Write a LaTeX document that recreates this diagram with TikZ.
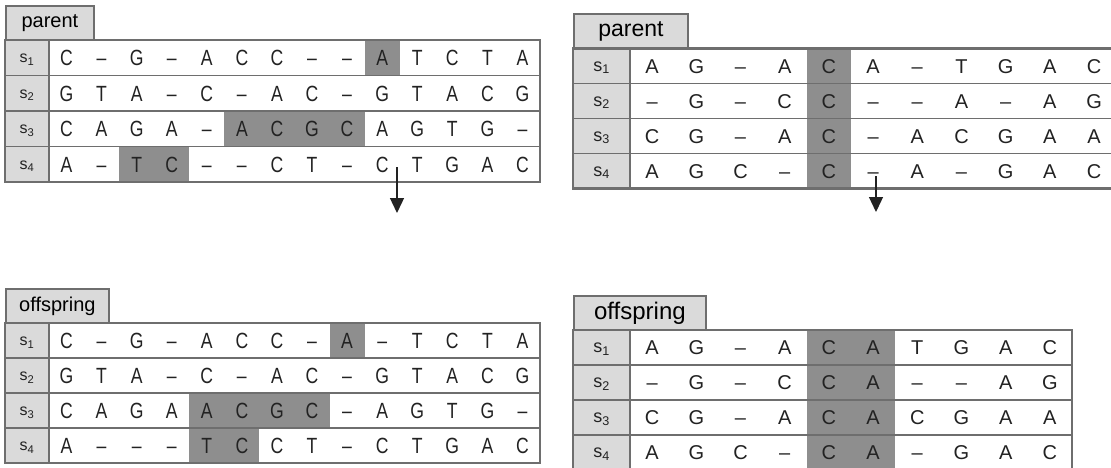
\documentclass[tikz,border=0pt]{standalone}
\usepackage{fontspec}
\setmainfont{Liberation Sans}
\newfontfamily\narrowfont[FakeStretch=0.8]{Liberation Sans}
\usetikzlibrary{arrows.meta}
\definecolor{gridc}{HTML}{6E6E6E}
\definecolor{labc}{HTML}{DADADA}
\definecolor{shadec}{HTML}{8E8E8E}
\definecolor{inkc}{HTML}{222222}
\newcommand\sgap{\textendash}
\tikzset{
  labcell/.style={fill=labc},
  seqwhite/.style={fill=white},
  shadecell/.style={fill=shadec},
  rowline/.style={draw=gridc, line width=1.8pt},
  frameline/.style={draw=gridc, line width=2.2pt},
  tabbox/.style={draw=gridc, fill=labc, line width=1.8pt, inner sep=0pt, anchor=north west, text=black},
  lettL/.style={text=inkc, font=\narrowfont\fontsize{22}{24}\selectfont, inner sep=0pt, anchor=base},
  lettR/.style={text=inkc, font=\fontsize{20}{24}\selectfont, inner sep=0pt, anchor=base},
  labL/.style={text=inkc, font=\fontsize{16}{18}\selectfont, inner sep=0pt, anchor=base},
  labR/.style={text=inkc, font=\fontsize{18}{20}\selectfont, inner sep=0pt, anchor=base},
  arr/.style={draw=inkc, line width=1.3pt, -{Triangle[width=14pt,length=15pt]}},
}
% #1 table name, #2 row number, #3 shade from, #4 shade to, #5 letters
\newcommand\seqrow[5]{%
  \pgfmathsetmacro\rya{\Ty+(#2-1)*\Th}%
  \pgfmathsetmacro\ryb{\rya+\Th}%
  \pgfmathsetmacro\rym{\rya+\Th/2}%
  \pgfmathsetmacro\rsa{\Tl+#3*\Tw}%
  \pgfmathsetmacro\rsb{\Tl+#4*\Tw}%
  \pgfmathsetmacro\rxr{\Tl+\Tn*\Tw}%
  \fill[labcell] (\Tx,\rya) rectangle (\Tl,\ryb);
  \fill[seqwhite] (\Tl,\rya) rectangle (\rxr,\ryb);
  \fill[shadecell] (\rsa,\rya) rectangle (\rsb,\ryb);
  \draw[rowline] (\Tx,\rya) rectangle (\Tl,\ryb);
  \draw[rowline] (\Tl,\rya) rectangle (\rxr,\ryb);
  \node[lab] (#1-s#2) at ({(\Tx+\Tl)/2},{\rym+\Lb}) {s\textsubscript{#2}};
  \foreach \ch [count=\i from 0] in {#5} {\node[lett] (#1-#2-\i) at ({\Tl+\Tw*(\i+0.5)},{\rym+\Cb}) {\ch};}
}
\begin{document}
\begin{tikzpicture}[x=1pt,y=-1pt]
\useasboundingbox (0,0) rectangle (1111,467);
\clip (0,0) rectangle (1111,467);

% ---------- top-left parent ----------
\def\Tx{5}\def\Tl{49}\def\Tw{35.07}\def\Ty{40}\def\Th{35.5}\def\Tn{14}\def\Cb{8}\def\Lb{5}
\tikzset{lett/.style={lettL}, lab/.style={labL}}
\node[tabbox, minimum width=88pt, minimum height=35pt, font=\fontsize{20}{24}\selectfont] (tl-tab) at (5,5) {parent};
\seqrow{tl}{1}{9}{10}{C,\sgap,G,\sgap,A,C,C,\sgap,\sgap,A,T,C,T,A}
\seqrow{tl}{2}{0}{0}{G,T,A,\sgap,C,\sgap,A,C,\sgap,G,T,A,C,G}
\seqrow{tl}{3}{5}{9}{C,A,G,A,\sgap,A,C,G,C,A,G,T,G,\sgap}
\seqrow{tl}{4}{2}{4}{A,\sgap,T,C,\sgap,\sgap,C,T,\sgap,C,T,G,A,C}
\draw[frameline] (5,40) rectangle (540,182);
\coordinate (tl-arrtop) at (397,167);
\coordinate (tl-arrtip) at (397,213);
\draw[arr] (tl-arrtop) -- (tl-arrtip);

% ---------- top-right parent ----------
\def\Tx{573}\def\Tl{630}\def\Tw{44.2}\def\Ty{48.5}\def\Th{35}\def\Tn{11}\def\Cb{7.2}\def\Lb{5}
\tikzset{lett/.style={lettR}, lab/.style={labR}}
\node[tabbox, minimum width=114pt, minimum height=35.5pt, font=\fontsize{23}{26}\selectfont] (tr-tab) at (573,13) {parent};
\seqrow{tr}{1}{4}{5}{A,G,\sgap,A,C,A,\sgap,T,G,A,C}
\seqrow{tr}{2}{4}{5}{\sgap,G,\sgap,C,C,\sgap,\sgap,A,\sgap,A,G}
\seqrow{tr}{3}{4}{5}{C,G,\sgap,A,C,\sgap,A,C,G,A,A}
\seqrow{tr}{4}{4}{5}{A,G,C,\sgap,C,\sgap,A,\sgap,G,A,C}
\draw[frameline] (573,48.5) rectangle (1116,188.5);
\coordinate (tr-arrtop) at (876,176);
\coordinate (tr-arrtip) at (876,212);
\draw[arr] (tr-arrtop) -- (tr-arrtip);

% ---------- bottom-left offspring ----------
\def\Tx{5}\def\Tl{49}\def\Tw{35.07}\def\Ty{323}\def\Th{35}\def\Tn{14}\def\Cb{8}\def\Lb{5}
\tikzset{lett/.style={lettL}, lab/.style={labL}}
\node[tabbox, minimum width=103pt, minimum height=35pt, font=\fontsize{20}{24}\selectfont] (bl-tab) at (5,288) {offspring};
\seqrow{bl}{1}{8}{9}{C,\sgap,G,\sgap,A,C,C,\sgap,A,\sgap,T,C,T,A}
\seqrow{bl}{2}{0}{0}{G,T,A,\sgap,C,\sgap,A,C,\sgap,G,T,A,C,G}
\seqrow{bl}{3}{4}{8}{C,A,G,A,A,C,G,C,\sgap,A,G,T,G,\sgap}
\seqrow{bl}{4}{4}{6}{A,\sgap,\sgap,\sgap,T,C,C,T,\sgap,C,T,G,A,C}
\draw[frameline] (5,323) rectangle (540,463);

% ---------- bottom-right offspring ----------
\def\Tx{573}\def\Tl{630}\def\Tw{44.2}\def\Ty{330}\def\Th{35}\def\Tn{10}\def\Cb{7.2}\def\Lb{5}
\tikzset{lett/.style={lettR}, lab/.style={labR}}
\node[tabbox, minimum width=132pt, minimum height=35pt, font=\fontsize{24}{27}\selectfont] (br-tab) at (573,295) {offspring};
\seqrow{br}{1}{4}{6}{A,G,\sgap,A,C,A,T,G,A,C}
\seqrow{br}{2}{4}{6}{\sgap,G,\sgap,C,C,A,\sgap,\sgap,A,G}
\seqrow{br}{3}{4}{6}{C,G,\sgap,A,C,A,C,G,A,A}
\seqrow{br}{4}{4}{6}{A,G,C,\sgap,C,A,\sgap,G,A,C}
\draw[frameline] (573,330) rectangle (1072,470);
\end{tikzpicture}
\end{document}
